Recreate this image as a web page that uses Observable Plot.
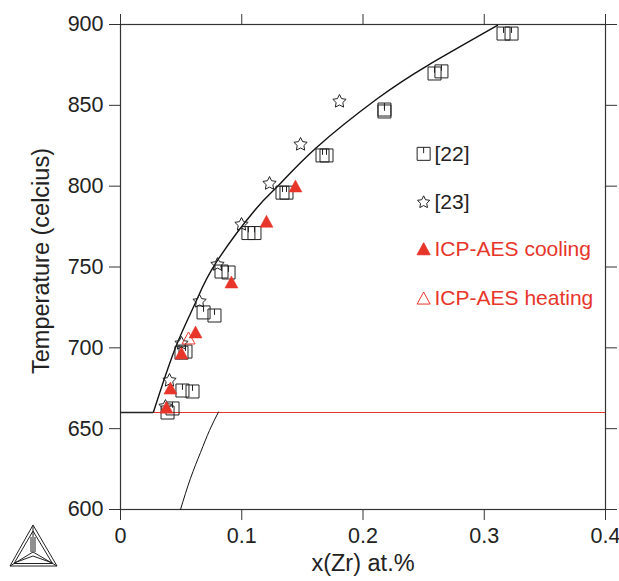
<!DOCTYPE html>
<html><head><meta charset="utf-8">
<script src="https://cdn.jsdelivr.net/npm/d3@7"></script>
<script src="https://cdn.jsdelivr.net/npm/@observablehq/plot@0.6"></script>
<style>html,body{margin:0;padding:0;background:#fff}#c{position:relative;width:619px;height:581px}
#c svg{position:absolute;left:0;top:0;background:transparent}</style>
</head><body><div id="c"></div>
<script>
const refs22X=[.0388,.0429,.0511,.0594,.0503,.0536,.0685,.0775,.0833,.0891,.1055,.1105,.1336,.1369,.1666,.1699,.2177,.2177,.259,.2647,.3159,.3225];
const refs22T=[660,662.5,673.6,673,697,697.7,721.9,720,747.2,746.6,771,771,796,796,819,819,847.4,846.2,869.7,871,894.4,894.4];
const refs23X=[.0371,.0404,.0503,.0652,.08,.0998,.1229,.1485,.1806];
const refs23T=[663.7,679.8,702.7,728.7,751.5,776.3,801.6,825.8,852.4];
const coolX=[.0379,.0412,.0503,.0619,.0915,.1204,.1443];
const coolT=[663,674.8,696.5,709.5,740.4,778,799.8];
const heatX=[.0561];
const heatT=[705.8];
const liquidusX=[.0272,.0454,.0619,.0784,.1113,.1303,.1608,.212,.2532,.3109];
const liquidusT=[660.3,700.2,728,752.2,785.6,800.4,823.3,854.2,874.6,899.4];
const lowerX=[.0495,.0577,.066,.0734,.0808];
const lowerT=[600,619.2,635.3,648.9,660.3];
const xTicks=[0,.1,.2,.3,.4];
const yTicks=[600,650,700,750,800,850,900];
const legendLabels=["[22]","[23]","ICP-AES cooling","ICP-AES heating"];
const legendT=[820,790,761,730.5];
const legendColors=["#222","#222","#e8352a","#e8352a"];

const zip=(a,b)=>a.map((x,i)=>({x,y:b[i]}));
const squareTick={draw(c,size){const r=Math.sqrt(size/Math.PI);
  c.moveTo(-r,-r);c.lineTo(r,-r);c.lineTo(r,r);c.lineTo(-r,r);c.closePath();
  c.moveTo(0,-r);c.lineTo(0,-r*0.1);}};
const star={draw(c,size){const r=Math.sqrt(size/Math.PI);
  for(let i=0;i<10;i++){const a=-Math.PI/2+i*Math.PI/5,q=i%2?r*0.5:r;
    const px=q*Math.cos(a),py=q*Math.sin(a);i?c.lineTo(px,py):c.moveTo(px,py);}c.closePath();}};
const tri={draw(c,size){const r=Math.sqrt(size/Math.PI);
  c.moveTo(0,-r);c.lineTo(r,r*0.85);c.lineTo(-r,r*0.85);c.closePath();}};
const axis="#333",font="'Liberation Sans',Arial,sans-serif",red="#e8352a";
const symFor=[squareTick,star,tri,tri];
const plot=Plot.plot({
  width:619,height:581,marginLeft:120,marginRight:14,marginTop:24,marginBottom:72,
  style:{fontFamily:font,background:"transparent"},
  x:{domain:[0,.4]},y:{domain:[600,900]},
  marks:[
    Plot.frame({stroke:axis,strokeWidth:1.2}),
    Plot.axisX({anchor:"bottom",ticks:xTicks,tickSize:11,tickPadding:7,fontSize:21.5,stroke:axis,color:"#222",tickFormat:d=>String(d),label:null}),
    Plot.axisX({anchor:"top",ticks:xTicks,tickSize:11,tickFormat:()=>"",stroke:axis,label:null}),
    Plot.axisY({anchor:"left",ticks:yTicks,tickSize:11,tickPadding:6,fontSize:21.5,stroke:axis,color:"#222",label:null}),
    Plot.axisY({anchor:"right",ticks:yTicks,tickSize:11,tickFormat:()=>"",stroke:axis,label:null}),
    Plot.ruleY([660],{x1:.0272,x2:.4,stroke:red,strokeWidth:1}),
    Plot.ruleY([660],{x1:0,x2:.0272,stroke:"#222",strokeWidth:1.3}),
    Plot.line(zip(liquidusX,liquidusT),{x:"x",y:"y",curve:"natural",stroke:"#111",strokeWidth:1.4}),
    Plot.line(zip(lowerX,lowerT),{x:"x",y:"y",curve:"natural",stroke:"#111",strokeWidth:1}),
    Plot.dot(zip(refs22X,refs22T),{x:"x",y:"y",symbol:squareTick,r:6.5,stroke:"#222",strokeWidth:1,fill:"none"}),
    Plot.dot(zip(refs23X,refs23T),{x:"x",y:"y",symbol:star,r:7,stroke:"#222",strokeWidth:1,fill:"none"}),
    Plot.dot(zip(heatX,heatT),{x:"x",y:"y",symbol:tri,r:6.5,stroke:red,strokeWidth:1,fill:"none"}),
    Plot.dot(zip(coolX,coolT),{x:"x",y:"y",symbol:tri,r:6.5,stroke:red,strokeWidth:.5,fill:red}),
    ...legendLabels.map((t,i)=>Plot.dot([{x:.25,y:legendT[i]}],{x:"x",y:"y",symbol:symFor[i],r:6.5,stroke:legendColors[i],strokeWidth:1,fill:i===2?red:"none"})),
    Plot.text(legendLabels.map((t,i)=>({t,x:.259,y:legendT[i],c:legendColors[i]})),{x:"x",y:"y",text:"t",fill:"c",textAnchor:"start",fontSize:21}),
    Plot.text(["Temperature (celcius)"],{frameAnchor:"left",dx:-79,dy:-6,rotate:-90,fontSize:23.5,fill:"#222",textAnchor:"middle"}),
    Plot.text(["x(Zr) at.%"],{frameAnchor:"bottom",dy:61,fontSize:23.5,fill:"#222",textAnchor:"middle"})
  ]
});
document.getElementById("c").appendChild(plot);
// Software logo (decoration, not data)
const ns="http://www.w3.org/2000/svg";
const logo=document.createElementNS(ns,"svg");
logo.setAttribute("width",619);logo.setAttribute("height",581);logo.setAttribute("aria-label","logo");
const A=[33,525],B=[10,566],C=[57,566],M=[33,552];
const seg=[[A,B],[B,C],[C,A],[A,M],[B,M],[C,M],[[33,531],[14,563.5]],[[33,531],[52.5,563.5]],[[14,563.5],[52.5,563.5]],[[31,537],[31,552]],[[35,537],[35,552]],[[14,563],[33,556]],[[52.5,563],[33,556]]];
seg.forEach(([p,q])=>{const l=document.createElementNS(ns,"line");
  l.setAttribute("x1",p[0]);l.setAttribute("y1",p[1]);l.setAttribute("x2",q[0]);l.setAttribute("y2",q[1]);
  l.setAttribute("stroke","#222");l.setAttribute("stroke-width","1");logo.appendChild(l);});
document.getElementById("c").appendChild(logo);
</script></body></html>
